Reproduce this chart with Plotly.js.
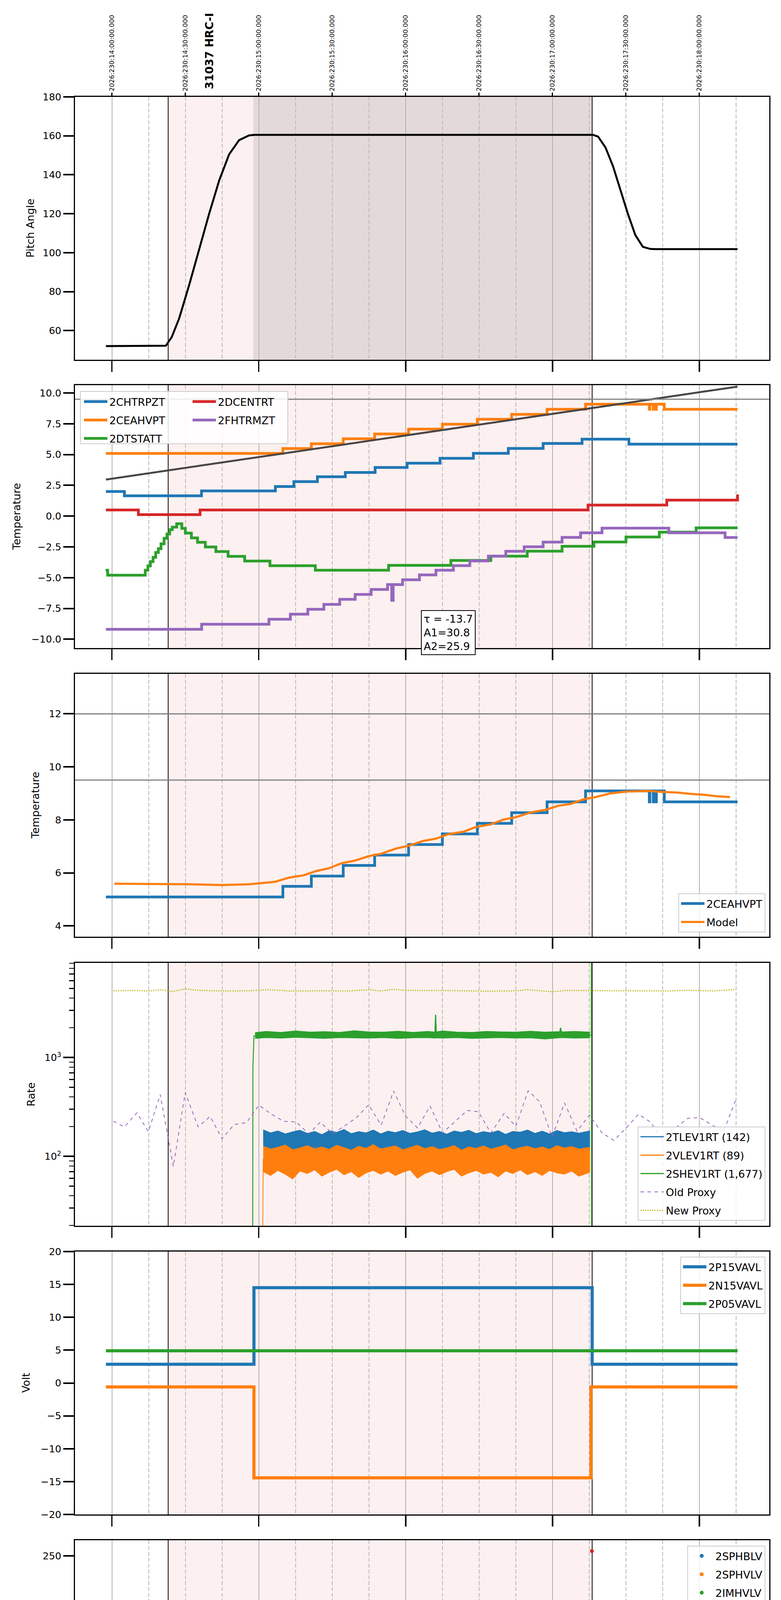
<!DOCTYPE html>
<html>
<head>
<meta charset="utf-8">
<script src="https://cdn.plot.ly/plotly-3.0.1.min.js"></script>
<style>body{margin:0;background:#fff}</style>
</head>
<body>
<div id="chart" style="width:2000px;height:6200px"></div>
<script>
// x is local time in hours (UTC-4), 2026-08-18 = day 230
const hourTicks = [10, 11, 12, 13, 14]
const hourText = ['10h', '11h', '12h', '13h', '14h']
const quarterTicks = [9.75, 10.25, 10.5, 10.75, 11.25, 11.5, 11.75, 12.25, 12.5, 12.75, 13.25, 13.5, 13.75, 14.25]
const quarterText = ['45', '15', '30', '45', '15', '30', '45', '15', '30', '45', '15', '30', '45', '15']
const utcTicks = [10, 10.5, 11, 11.5, 12, 12.5, 13, 13.5, 14]
const utcText = ['2026:230:14:00:00.000', '2026:230:14:30:00.000', '2026:230:15:00:00.000', '2026:230:15:30:00.000',
  '2026:230:16:00:00.000', '2026:230:16:30:00.000', '2026:230:17:00:00.000', '2026:230:17:30:00.000', '2026:230:18:00:00.000']
const obsWindow = [10.383, 13.27]
const dwellWindow = [10.963, 13.27]
const obsLabel = '31037 HRC-I'
const fitText = ['τ = -13.7', 'A1=30.8', 'A2=25.9']

// pitch
const pitchT = [9.959, 10.367, 10.407, 10.458, 10.526, 10.594, 10.662, 10.730, 10.798, 10.866, 10.933, 10.967,
  13.276, 13.310, 13.361, 13.412, 13.462, 13.513, 13.564, 13.615, 13.666, 13.700, 14.260]
const pitchV = [52, 52.2, 56.6, 66.3, 83.4, 101.7, 120, 137, 150.5, 157.8, 160.2, 160.5,
  160.5, 159.6, 154, 144.4, 132, 120, 109, 103, 101.9, 101.8, 101.8]

// temperatures (step data)
const chtrpztT = [9.959, 10.085, 10.61, 11.113, 11.239, 11.399, 11.589, 11.792, 12.010, 12.234, 12.461, 12.699, 12.936, 13.201, 13.520, 14.260]
const chtrpztV = [2.0, 1.65, 2.05, 2.4, 2.8, 3.2, 3.55, 3.95, 4.3, 4.7, 5.1, 5.5, 5.9, 6.25, 5.85, 5.85]
const ceahvptT = [9.959, 11.164, 11.358, 11.575, 11.789, 12.020, 12.250, 12.488, 12.722, 12.963, 13.225, 13.659, 13.663, 13.686, 13.690, 13.703, 13.707, 13.761, 14.260]
const ceahvptV = [5.09, 5.49, 5.88, 6.28, 6.67, 7.07, 7.47, 7.87, 8.27, 8.68, 9.09, 8.68, 9.09, 8.68, 9.09, 8.68, 9.09, 8.68, 8.68]
const dtstattT = [9.957, 9.971, 10.227, 10.245, 10.262, 10.280, 10.298, 10.316, 10.334, 10.355, 10.375, 10.393, 10.411, 10.441,
  10.476, 10.500, 10.541, 10.583, 10.636, 10.708, 10.791, 10.904, 11.076, 11.385, 11.884, 12.308, 12.580, 12.828, 13.065,
  13.282, 13.500, 13.727, 13.978, 14.260]
const dtstattV = [-4.4, -4.8, -4.4, -4.05, -3.7, -3.35, -2.95, -2.65, -2.25, -1.8, -1.45, -1.1, -0.9, -0.62,
  -1.0, -1.38, -1.77, -2.13, -2.51, -2.88, -3.27, -3.65, -4.03, -4.4, -4.0, -3.6, -3.25, -2.85, -2.45,
  -2.1, -1.7, -1.3, -0.95, -0.95]
const dcentrtT = [9.959, 10.180, 10.600, 13.242, 13.778, 14.250, 14.260]
const dcentrtV = [0.5, 0.12, 0.5, 0.9, 1.3, 1.3, 1.75]
const fhtrmztT = [9.959, 10.611, 11.069, 11.215, 11.334, 11.443, 11.551, 11.656, 11.765, 11.877, 11.905, 11.915, 11.979, 12.094,
  12.206, 12.325, 12.437, 12.563, 12.682, 12.807, 12.936, 13.065, 13.191, 13.337, 13.792, 14.175, 14.260]
const fhtrmztV = [-9.2, -8.78, -8.38, -7.97, -7.57, -7.17, -6.76, -6.36, -5.96, -5.56, -6.85, -5.56, -5.17, -4.78,
  -4.40, -4.02, -3.64, -3.25, -2.86, -2.49, -2.11, -1.73, -1.36, -0.98, -1.36, -1.74, -1.74]
const trendT = [9.959, 14.260]
const trendV = [2.97, 10.52]
const limits2 = [9.5]
const limits3 = [12, 9.5]

// model of 2CEAHVPT
const modelT = [10.017, 10.255, 10.526, 10.747, 10.933, 11.110, 11.205, 11.307, 11.392, 11.477, 11.561, 11.653, 11.748,
  11.833, 11.935, 12.020, 12.115, 12.206, 12.291, 12.393, 12.478, 12.580, 12.665, 12.750, 12.851, 12.953, 13.038, 13.123,
  13.214, 13.293, 13.394, 13.513, 13.649, 13.734, 13.853, 13.938, 14.022, 14.124, 14.209]
const modelV = [5.59, 5.59, 5.57, 5.54, 5.57, 5.66, 5.82, 5.91, 6.07, 6.17, 6.36, 6.46, 6.63,
  6.72, 6.92, 7.02, 7.20, 7.29, 7.46, 7.55, 7.73, 7.83, 8.01, 8.10, 8.28, 8.38, 8.53, 8.60,
  8.78, 8.86, 9.0, 9.07, 9.09, 9.06, 9.03, 8.98, 8.95, 8.89, 8.86]

// rates (noise read as upper / lower envelopes)
const rateT = [11.030, 11.08, 11.13, 11.18, 11.23, 11.28, 11.33, 11.38, 11.43, 11.48, 11.53, 11.58, 11.63, 11.68, 11.73,
  11.78, 11.83, 11.88, 11.93, 11.98, 12.03, 12.08, 12.13, 12.18, 12.23, 12.28, 12.33, 12.38, 12.43, 12.48, 12.53, 12.58,
  12.63, 12.68, 12.73, 12.78, 12.83, 12.88, 12.93, 12.98, 13.03, 13.08, 13.13, 13.18, 13.255]
const tlevHi = [185, 172, 180, 168, 176, 183, 170, 178, 165, 181, 174, 186, 169, 177, 172, 184, 168, 179, 173, 182,
  170, 176, 185, 171, 178, 167, 180, 174, 183, 169, 177, 172, 181, 166, 178, 175, 184, 170, 179, 168, 182, 173, 177, 171, 180]
const tlevLo = [115, 108, 120, 112, 118, 106, 114, 121, 110, 117, 104, 116, 112, 119, 108, 115, 122, 110, 116, 107,
  113, 120, 111, 117, 105, 114, 119, 109, 116, 112, 121, 107, 115, 118, 110, 113, 106, 117, 120, 111, 115, 108, 118, 113, 116]
const vlevHi = [126, 118, 123, 130, 116, 121, 128, 119, 124, 117, 129, 122, 115, 126, 120, 131, 118, 123, 127, 116,
  122, 129, 119, 125, 117, 121, 128, 115, 124, 120, 127, 118, 123, 130, 116, 122, 126, 119, 124, 117, 128, 121, 125, 118, 123]
const vlevLo = [70, 64, 72, 66, 59, 71, 67, 73, 63, 69, 74, 65, 70, 61, 68, 72, 66, 71, 64, 69,
  73, 60, 67, 71, 65, 70, 74, 63, 68, 72, 66, 69, 62, 71, 67, 73, 65, 70, 64, 72, 68, 66, 71, 63, 69]
const vlevRiseT = [11.025, 11.030]
const vlevRiseV = [5, 95]
const shevT = [10.975, 11.05, 11.15, 11.25, 11.35, 11.45, 11.55, 11.65, 11.75, 11.85, 11.95, 12.05, 12.15, 12.2, 12.204,
  12.208, 12.25, 12.35, 12.45, 12.55, 12.65, 12.75, 12.85, 12.95, 13.05, 13.055, 13.06, 13.15, 13.255]
const shevHi = [1780, 1830, 1790, 1850, 1800, 1820, 1790, 1860, 1810, 1800, 1840, 1790, 1830, 1800, 2710,
  1810, 1850, 1800, 1790, 1830, 1810, 1800, 1840, 1800, 1820, 2000, 1810, 1830, 1800]
const shevLo = [1560, 1590, 1570, 1600, 1580, 1560, 1590, 1580, 1570, 1590, 1560, 1580, 1590, 1570, 1580,
  1580, 1570, 1590, 1560, 1580, 1590, 1570, 1580, 1540, 1580, 1580, 1590, 1570, 1580]
const shevEdgeT = [10.958, 10.960, 10.967, 10.975, 13.255, 13.264, 13.265, 13.266]
const shevEdgeV = [5, 800, 1650, 1670, 1680, 1680, 100000, 5]
const oldProxyT = [10.010, 10.085, 10.170, 10.248, 10.329, 10.418, 10.499, 10.587, 10.669, 10.750, 10.832, 10.917, 11.001,
  11.086, 11.171, 11.253, 11.341, 11.419, 11.504, 11.663, 11.748, 11.833, 11.918, 11.999, 12.081, 12.166, 12.251, 12.420,
  12.495, 12.580, 12.671, 12.750, 12.834, 12.912, 12.997, 13.082, 13.167, 13.252, 13.337, 13.418, 13.500, 13.585, 13.666,
  13.748, 13.836, 13.921, 14.002, 14.090, 14.165, 14.246]
const oldProxyV = [227, 199, 276, 178, 423, 79, 442, 199, 254, 151, 210, 220, 330,
  267, 226, 224, 169, 222, 169, 245, 333, 207, 458, 256, 194, 323, 173, 292,
  283, 173, 273, 201, 462, 358, 157, 347, 180, 262, 173, 145, 193, 267, 223,
  151, 193, 243, 247, 206, 178, 368]
const newProxyT = [10.010, 10.153, 10.255, 10.329, 10.407, 10.499, 10.594, 10.764, 10.933, 11.069, 11.205, 11.443, 11.613,
  11.748, 11.833, 11.918, 12.003, 12.291, 12.580, 12.750, 12.834, 12.919, 12.997, 13.089, 13.242, 13.479, 13.785, 13.921,
  14.090, 14.246]
const newProxyV = [4737, 4779, 4717, 4863, 4655, 4949, 4779, 4717, 4737, 4863, 4717, 4737, 4717,
  4863, 4717, 4906, 4779, 4758, 4697, 4737, 4863, 4758, 4634, 4779, 4758, 4737, 4717, 4800,
  4717, 4884]

// voltages
const p15T = [9.959, 10.967, 13.270, 14.260]
const p15V = [2.85, 14.5, 2.85, 2.85]
const n15T = [9.959, 10.967, 13.262, 14.260]
const n15V = [-0.6, -14.43, -0.6, -0.6]
const p05T = [9.959, 14.260]
const p05V = [4.9, 4.9]

// HV monitor (2SPHBLV / 2SPHVLV have no valid samples in the window)
const sphblvT = [null]
const sphblvV = [null]
const sphvlvT = [null]
const sphvlvV = [null]
const imhvlvT = [10.984, 10.995, 11.001, 11.015, 11.029, 11.042, 13.265]
const imhvlvV = [99.7, 95.3, 90, 86, 82, 78.1, 78.1]
const imhvlvOddT = [12.190, 12.257, 12.270, 12.281, 12.301, 12.692, 12.700]
const imhvlvOddV = [127, 127, 127, 127, 127, 127, 127]
const imhblvT = [10.981, 10.984, 10.988, 10.991, 11.001, 11.008, 11.018, 11.025, 11.035, 13.265]
const imhblvV = [127, 119, 106, 105, 101, 97, 93, 89, 85.9, 85.9]
const imhblvOddT = [12.190, 12.257, 12.301, 12.692, 13.268]
const imhblvOddV = [78, 78, 78, 78, 255]

// bursts of flickering readings
const burstA = [12.183, 12.190, 12.206, 12.213, 12.230, 12.237, 12.245, 12.255, 12.265, 12.275, 12.285, 12.295, 12.305,
  12.315, 12.325, 12.335, 12.345, 12.355, 12.365, 12.376]
const burstB = [12.641, 12.650, 12.660, 12.670, 12.680, 12.690, 12.700, 12.710, 12.720, 12.730, 12.740, 12.750]

// detector temps
const spinatmT = [10.967, 10.978, 11.052, 11.436, 12.013, ...burstA, ...burstB, 12.807, 13.262]
const spinatmV = [2.65, 3.15, 2.68, 2.2, 2.68,
  -2, 2.68, -2, 2.68, -2, 2.68, -2, 2.68, -2, 2.68, -2, 2.68, -2, 2.68, -2, 2.68,
  -2, 2.68, -2, 2.68, -2, 2.68, -2, 2.68, -2, 2.68, -2, 2.68,
  3.15, 3.15]
const sphvatmT = [10.967, 11.572, 11.857, 12.105, ...burstA, 12.546, ...burstB, 12.970, 13.201, 13.262]
const sphvatmV = [13.31, 13.63, 13.98, 14.32,
  8.66, 14.32, 8.66, 14.32, 9.0, 14.32, 9.0, 14.32, 9.0, 14.32, 9.0, 14.32, 9.0, 14.32, 9.0, 14.32, 9.0, 14.32, 9.0, 14.64,
  14.99,
  9.63, 14.99, 9.63, 14.99, 9.63, 14.99, 9.63, 14.99, 9.63, 14.99, 9.63, 15.33,
  15.66, 16.02, 16.02]
const iminatmT = [10.967, ...burstA, ...burstB, 13.255, 13.262]
const iminatmV = [0.37,
  2.76, 0.37, 2.76, 0.37, 2.76, 0.37, 2.76, 0.37, 2.76, 0.37, 2.76, 0.37, 2.76, 0.37, 2.76, 0.83, 2.76, 0.83, 2.76, 0.83,
  2.76, 0.83, 2.76, 0.83, 2.76, 0.83, 2.76, 0.83, 2.76, 0.83, 2.76, 0.83,
  0.83, 1.2]
const imhvatmT = [10.966, 10.967, 11.164, 11.263, 11.358, 11.466, 11.572, 11.690, 11.826, 11.969, 12.122, ...burstA,
  12.454, 12.631, ...burstB, 12.800, 12.997, 13.201, 13.265, 13.268]
const imhvatmV = [-5, 12.62, 12.97, 13.31, 13.66, 14.0, 14.35, 14.7, 15.04, 15.39, 15.73,
  14.32, 15.73, 14.32, 15.73, 14.32, 15.73, 14.32, 15.73, 14.32, 16.05, 14.32, 16.05, 14.32, 16.05, 14.32, 16.05, 14.32, 16.05, 14.32, 16.05,
  16.37, 16.71,
  14.99, 16.71, 14.99, 16.71, 14.99, 16.71, 14.99, 16.71, 14.99, 16.71, 14.99, 16.71,
  17.07, 17.42, 17.78, 25, -5]

// FEA temps
const fradpytT = [11.196, 11.198, 11.314, 11.415, 11.521, 11.633, 11.748, 11.860, 11.979, 12.098, 12.223, 12.352, 12.478,
  12.607, 12.743, 12.875, 13.011, 13.150, 13.282, 13.473, 13.700, 13.893, 14.134, 14.260]
const fradpytV = [-12, -9.61, -9.19, -8.79, -8.37, -7.97, -7.55, -7.17, -6.76, -6.36, -5.97, -5.58, -5.19,
  -4.81, -4.41, -4.03, -3.65, -3.26, -2.87, -3.26, -3.65, -4.03, -4.41, -4.41]
const fepratmT = [10.966, 10.967, 11.012, 11.059, 11.103, 11.161, 11.215, 11.297, 11.382, 11.477, 11.578, 11.680, 11.789,
  11.911, 12.027, 12.146, ...burstA, 12.400, 12.536, ...burstB, 12.817, 12.960, 13.106, 13.262]
const fepratmV = [-12, -8.94, -8.49, -8.12, -7.69, -7.29, -6.86, -6.44, -6.02, -5.6, -5.19, -4.79, -4.37,
  -3.95, -3.53, -3.08,
  -6.05, -3.08, -6.05, -3.08, -6.05, -3.08, -6.05, -3.08, -6.05, -3.08, -6.05, -3.08, -6.05, -3.08, -6.05, -3.08, -6.05, -3.08, -6.05, -2.66,
  -2.27, -1.84,
  -6.05, -1.84, -6.05, -1.84, -6.05, -1.84, -6.05, -1.84, -6.05, -1.84, -6.05, -1.43,
  -0.98, -0.54, -0.1, 1]
const fe00atmT = [10.966, 10.967, 11.052, 11.056, 11.130, 11.222, 11.300, 11.382, 11.405, 11.412, 11.460, 11.545, 11.629,
  11.665, 11.670, 11.707, 11.789, 11.877, 11.920, 11.925, 11.930, 11.969, 12.054, 12.122, ...burstA, 12.427, 12.522,
  ...burstB, 12.835, 12.936, 13.031, 13.140, 13.242, 13.265, 13.268]
const fe00atmV = [-12, -9.62, -12, -9.62, -9.28, -8.92, -8.53, -8.2, -7.77, -8.2, -7.81, -7.45, -7.09,
  -7.8, -7.09, -6.72, -6.4, -6.02, -5.0, -6.8, -6.02, -5.68, -5.34, -4.99,
  1, -4.99, 1, -4.99, 1, -4.99, 1, -4.99, 1, -4.7, 1, -4.7, 1, -4.7, 1, -4.4, 1, -4.4, 1, -4.31,
  -3.96, -3.62,
  1, -3.30, 1, -3.30, 1, -3.30, 1, -3.30, 1, -3.30, 1, -2.94,
  -2.64, -2.29, -1.95, -1.61, -1.27, 1, -12]

const C = { blue: '#1f77b4', orange: '#ff7f0e', green: '#2ca02c', red: '#d62728', purple: '#9467bd', olive: '#bcbd22' }
const W = 2000
const H = 6200
const xRange = [9.7484, 14.476]
const plotLeft = 192
const plotRight = 1970
const tops = [248, 986, 1725, 2465, 3204, 3943, 4682, 5421]
const panelH = 673
const FONT = 'DejaVu Sans, sans-serif'

const sub = i => (i === 0 ? '' : String(i + 1))
const px = x => x / W
const py = y => 1 - y / H

const step = (i, x, y, name, color, width, legend, extra = {}) => ({
  type: 'scatter', mode: 'lines', x, y, name,
  xaxis: 'x' + sub(i), yaxis: 'y' + sub(i),
  line: { color, width, shape: 'hv' },
  legend: legend || 'legend', showlegend: !!legend, legendgroup: 'g' + i + name,
  ...extra,
})

const band = (i, t, hi, lo, name, color, legend) => [
  { type: 'scatter', mode: 'lines', x: t, y: hi, name, xaxis: 'x' + sub(i), yaxis: 'y' + sub(i),
    line: { color, width: 3 }, legend, showlegend: true, legendgroup: 'g' + i + name },
  { type: 'scatter', mode: 'lines', x: t, y: lo, xaxis: 'x' + sub(i), yaxis: 'y' + sub(i),
    line: { color, width: 1.5 }, fill: 'tonexty', fillcolor: color, showlegend: false, legend, legendgroup: 'g' + i + name },
]

const dots = (i, x, y, name, color, legend) => ({
  type: 'scatter', mode: 'markers', x, y, name, xaxis: 'x' + sub(i), yaxis: 'y' + sub(i),
  marker: { color, size: 10 }, legend, showlegend: !!legend, legendgroup: 'g' + i + name,
})

const data = [
  step(0, pitchT, pitchV, 'Pitch', 'black', 5, null, { line: { color: 'black', width: 5 } }),

  step(1, chtrpztT, chtrpztV, '2CHTRPZT', C.blue, 7, 'legend'),
  step(1, ceahvptT, ceahvptV, '2CEAHVPT', C.orange, 7, 'legend'),
  step(1, dtstattT, dtstattV, '2DTSTATT', C.green, 7, 'legend'),
  step(1, dcentrtT, dcentrtV, '2DCENTRT', C.red, 7, 'legend2'),
  step(1, fhtrmztT, fhtrmztV, '2FHTRMZT', C.purple, 7, 'legend2'),
  step(1, trendT, trendV, 'trend', '#4b4545', 5, null, { line: { color: '#4b4545', width: 5 } }),

  step(2, ceahvptT, ceahvptV, '2CEAHVPT', C.blue, 7, 'legend3'),
  step(2, modelT, modelV, 'Model', C.orange, 5.5, 'legend3', { line: { color: C.orange, width: 5.5 } }),

  ...band(3, rateT, tlevHi, tlevLo, '2TLEV1RT (142)', C.blue, 'legend4'),
  step(3, vlevRiseT, vlevRiseV, 'rise', C.orange, 2, null, { line: { color: C.orange, width: 2 } }),
  ...band(3, rateT, vlevHi, vlevLo, '2VLEV1RT (89)', C.orange, 'legend4'),
  step(3, shevEdgeT, shevEdgeV, 'edge', C.green, 2.5, null, { line: { color: C.green, width: 2.5 } }),
  ...band(3, shevT, shevHi, shevLo, '2SHEV1RT (1,677)', C.green, 'legend4'),
  step(3, oldProxyT, oldProxyV, 'Old Proxy', C.purple, 2, 'legend4', { line: { color: C.purple, width: 2, dash: 'dash' } }),
  step(3, newProxyT, newProxyV, 'New Proxy', C.olive, 3, 'legend4', { line: { color: C.olive, width: 3, dash: 'dot' } }),

  step(4, p15T, p15V, '2P15VAVL', C.blue, 8, 'legend5'),
  step(4, n15T, n15V, '2N15VAVL', C.orange, 8, 'legend5'),
  step(4, p05T, p05V, '2P05VAVL', C.green, 8, 'legend5'),

  dots(5, sphblvT, sphblvV, '2SPHBLV', C.blue, 'legend6'),
  dots(5, sphvlvT, sphvlvV, '2SPHVLV', C.orange, 'legend6'),
  step(5, imhvlvT.slice(-2), imhvlvV.slice(-2), 'band', C.green, 11, null, { line: { color: C.green, width: 11 } }),
  dots(5, [...imhvlvT, ...imhvlvOddT], [...imhvlvV, ...imhvlvOddV], '2IMHVLV', C.green, 'legend6'),
  step(5, imhblvT.slice(-2), imhblvV.slice(-2), 'band', C.red, 13, null, { line: { color: C.red, width: 13 } }),
  dots(5, [...imhblvT, ...imhblvOddT], [...imhblvV, ...imhblvOddV], '2IMHBLV', C.red, 'legend6'),

  step(6, spinatmT, spinatmV, '2SPINATM', C.blue, 7, 'legend7'),
  step(6, sphvatmT, sphvatmV, '2SPHVATM', C.orange, 7, 'legend7'),
  step(6, iminatmT, iminatmV, '2IMINATM', C.green, 7, 'legend7'),
  step(6, imhvatmT, imhvatmV, '2IMHVATM', C.red, 7, 'legend7'),

  step(7, fhtrmztT, fhtrmztV, '2FHTRMZT', C.blue, 7, 'legend8'),
  step(7, fradpytT, fradpytV, '2FRADPYT', C.orange, 7, 'legend8'),
  step(7, fepratmT, fepratmV, '2FEPRATM', C.green, 7, 'legend8'),
  step(7, fe00atmT, fe00atmV, '2FE00ATM', C.red, 7, 'legend8'),

  { type: 'scatter', x: [], y: [], xaxis: 'x9', yaxis: 'y', showlegend: false },
  { type: 'scatter', x: [], y: [], xaxis: 'x10', yaxis: 'y8', showlegend: false },
]

const yAxes = [
  { title: 'Pitch Angle', tx: 77, range: [45, 180], tickvals: [60, 80, 100, 120, 140, 160, 180] },
  { title: 'Temperature', tx: 42, range: [-10.72, 10.64], tickvals: [-10, -7.5, -5, -2.5, 0, 2.5, 5, 7.5, 10], tickformat: '.1f' },
  { title: 'Temperature', tx: 90, range: [3.59, 13.51], tickvals: [4, 6, 8, 10, 12] },
  { title: 'Rate', tx: 79, type: 'log', range: [1.298, 3.958], tickvals: [100, 1000], ticktext: ['10<sup>2</sup>', '10<sup>3</sup>'],
    minorvals: [20, 30, 40, 50, 60, 70, 80, 90, 200, 300, 400, 500, 600, 700, 800, 900, 2000, 3000, 4000, 5000, 6000, 7000, 8000, 9000] },
  { title: 'Volt', tx: 66, range: [-20, 20], tickvals: [-20, -15, -10, -5, 0, 5, 10, 15, 20] },
  { title: 'HV Monitor', tx: 77, range: [0, 266], tickvals: [0, 50, 100, 150, 200, 250] },
  { title: 'Detector Temp', tx: 64, range: [-1.15, 18.2], tickvals: [0, 2.5, 5, 7.5, 10, 12.5, 15, 17.5], tickformat: '.1f' },
  { title: 'FEA Temp', tx: 86, range: [-9.87, 0.08], tickvals: [-8, -6, -4, -2, 0] },
]

const layout = {
  width: W, height: H,
  margin: { l: 0, r: 0, t: 0, b: 0 },
  paper_bgcolor: 'white', plot_bgcolor: 'white',
  font: { family: FONT, size: 25, color: 'black' },
  shapes: [], annotations: [],
}

yAxes.forEach((ax, i) => {
  const n = sub(i)
  const top = tops[i]
  layout['xaxis' + n] = {
    domain: [px(plotLeft), px(plotRight)], anchor: 'y' + n, range: xRange,
    tickmode: 'array', tickvals: hourTicks, ticktext: hourText, showticklabels: i === 7,
    ticks: 'outside', ticklen: 28, tickwidth: 3.5, tickcolor: 'black', tickfont: { size: 27 },
    showgrid: true, gridcolor: '#b0b0b0', gridwidth: 2,
    minor: { tickmode: 'array', tickvals: quarterTicks, showgrid: true, gridcolor: '#b8b8b8', gridwidth: 2, griddash: '10px,5px', ticks: '' },
    showline: true, mirror: true, linecolor: 'black', linewidth: 3, zeroline: false,
  }
  layout['yaxis' + n] = {
    domain: [py(top + panelH), py(top)], anchor: 'x' + n, range: ax.range, type: ax.type || 'linear',
    tickmode: 'array', tickvals: ax.tickvals, ticktext: ax.ticktext, tickformat: ax.tickformat,
    ticks: 'outside', ticklen: 27, tickwidth: 4, tickcolor: 'black', tickfont: { size: 25 },
    showgrid: false, zeroline: false, showline: true, mirror: true, linecolor: 'black', linewidth: 3,
    minor: ax.minorvals ? { tickmode: 'array', tickvals: ax.minorvals, ticks: 'outside', ticklen: 12, tickwidth: 2.5, tickcolor: 'black', showgrid: false } : undefined,
  }
  layout.annotations.push({
    text: ax.title, xref: 'paper', yref: 'paper', x: px(ax.tx), y: py(top + panelH / 2),
    textangle: -90, showarrow: false, xanchor: 'center', yanchor: 'middle', font: { size: 27 },
  })
  layout.shapes.push({
    type: 'rect', xref: 'x' + n, yref: 'y' + n + ' domain', x0: obsWindow[0], x1: obsWindow[1], y0: 0, y1: 1,
    fillcolor: '#fdf0f0', line: { width: 0 }, layer: 'below',
  })
  if (i === 0) {
    layout.shapes.push({
      type: 'rect', xref: 'x', yref: 'y domain', x0: dwellWindow[0], x1: dwellWindow[1], y0: 0, y1: 1,
      fillcolor: '#e4d9d9', line: { width: 0 }, layer: 'below',
    })
  }
  obsWindow.forEach(t => layout.shapes.push({
    type: 'line', xref: 'x' + n, yref: 'y' + n + ' domain', x0: t, x1: t, y0: 0, y1: 1,
    line: { color: 'black', width: 2 }, layer: 'below',
  }))
})

limits2.forEach(v => layout.shapes.push({ type: 'line', xref: 'x2 domain', yref: 'y2', x0: 0, x1: 1, y0: v, y1: v, line: { color: '#808080', width: 3 } }))
limits3.forEach(v => layout.shapes.push({ type: 'line', xref: 'x3 domain', yref: 'y3', x0: 0, x1: 1, y0: v, y1: v, line: { color: '#808080', width: 3 } }))

// shared box behind the two legend columns of panel 2
layout.shapes.push({
  type: 'rect', xref: 'paper', yref: 'paper', x0: px(206), x1: px(737), y0: py(1136), y1: py(1002),
  fillcolor: 'rgba(255,255,255,0.85)', line: { color: '#cccccc', width: 2 }, layer: 'above',
})

// UTC labels along the top of the first panel
layout.xaxis9 = {
  overlaying: 'x', anchor: 'y', side: 'top', range: xRange,
  tickmode: 'array', tickvals: utcTicks, ticktext: utcText, tickangle: -90,
  ticks: 'outside', ticklen: 10, tickwidth: 3, tickcolor: 'black', tickfont: { size: 16.5 },
  showgrid: false, zeroline: false, showline: false,
}
// quarter-hour labels under the last panel
layout.xaxis10 = {
  overlaying: 'x8', anchor: 'y8', side: 'bottom', range: xRange,
  tickmode: 'array', tickvals: quarterTicks, ticktext: quarterText,
  ticks: 'outside', ticklen: 4, tickcolor: 'rgba(0,0,0,0)', tickfont: { size: 17 },
  showgrid: false, zeroline: false, showline: false,
}

layout.annotations.push(
  { text: '<b>' + obsLabel + '</b>', xref: 'x', yref: 'paper', x: 10.665, y: py(230), textangle: -90,
    showarrow: false, xanchor: 'center', yanchor: 'bottom', font: { size: 28 } },
  { text: fitText.join('<br>'), xref: 'paper', yref: 'paper', x: px(1148), y: py(1620), showarrow: false,
    xanchor: 'center', yanchor: 'middle', align: 'left', font: { size: 27 },
    bgcolor: 'white', bordercolor: 'black', borderwidth: 2, borderpad: 5 },
  { text: '2026-08-18 (230)', xref: 'paper', yref: 'paper', x: px((plotLeft + plotRight) / 2), y: py(6184),
    showarrow: false, xanchor: 'center', yanchor: 'middle', font: { size: 27 } },
)

const common = { font: { size: 27 }, traceorder: 'grouped', tracegroupgap: 9, itemwidth: 60 }
const legendBox = { ...common, bgcolor: 'rgba(255,255,255,0.8)', bordercolor: '#cccccc', borderwidth: 2 }
const plain = { ...common, bgcolor: 'rgba(0,0,0,0)', borderwidth: 0 }
layout.legend = { ...plain, x: px(210), y: py(1004), xanchor: 'left', yanchor: 'top' }
layout.legend2 = { ...plain, x: px(488), y: py(1004), xanchor: 'left', yanchor: 'top' }
layout.legend3 = { ...legendBox, x: px(1960), y: py(2387), xanchor: 'right', yanchor: 'bottom' }
layout.legend4 = { ...legendBox, x: px(1960), y: py(3125), xanchor: 'right', yanchor: 'bottom' }
layout.legend5 = { ...legendBox, x: px(1960), y: py(3217), xanchor: 'right', yanchor: 'top' }
layout.legend6 = { ...legendBox, x: px(1960), y: py(3957), xanchor: 'right', yanchor: 'top' }
layout.legend7 = { ...legendBox, x: px(1960), y: py(4695), xanchor: 'right', yanchor: 'top' }
layout.legend8 = { ...legendBox, x: px(1960), y: py(6081), xanchor: 'right', yanchor: 'bottom' }

Plotly.newPlot('chart', data, layout, { staticPlot: true })
</script>
</body>
</html>
